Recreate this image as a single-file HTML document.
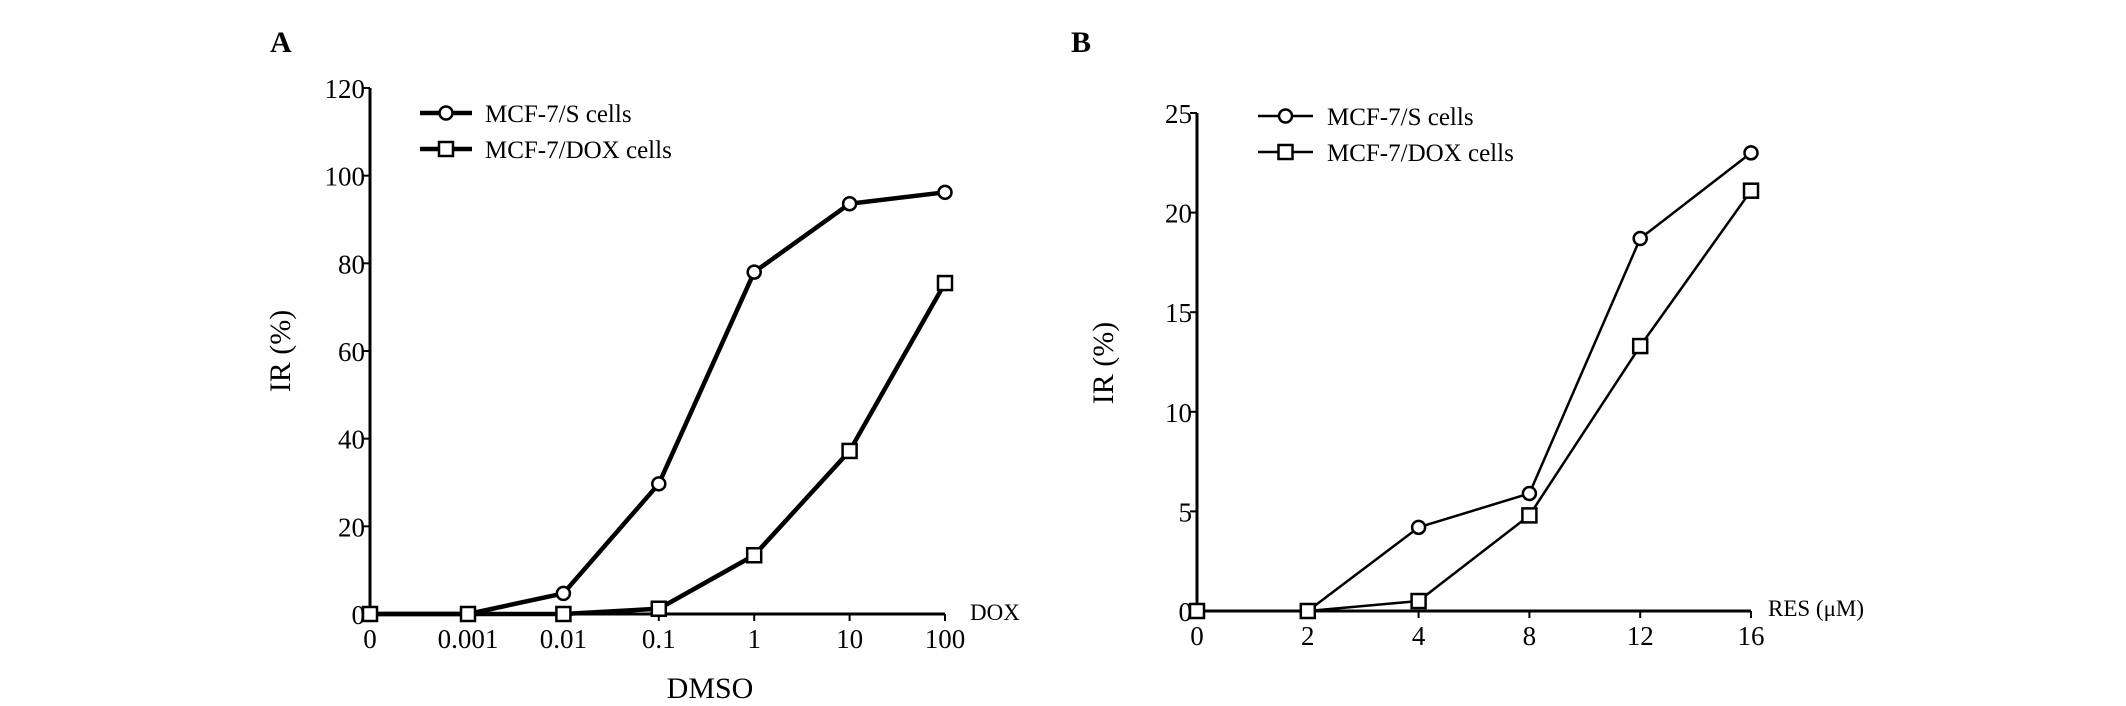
<!DOCTYPE html>
<html><head><meta charset="utf-8">
<style>
html,body{margin:0;padding:0;background:#fff;}
svg{display:block;font-family:"Liberation Serif",serif;}
</style></head>
<body>
<svg id="chart" width="2126" height="703" viewBox="0 0 2126 703">
<g id="pa"></g>
<g id="pb"></g>
</svg>
<script>
const aCategories = ["0","0.001","0.01","0.1","1","10","100"];
const aSeriesS = [0, 0, 4.7, 29.7, 78, 93.6, 96.2];
const aSeriesDox = [0, 0, 0, 1.2, 13.4, 37.2, 75.5];
const aYTicks = [0, 20, 40, 60, 80, 100, 120];

const bCategories = ["0","2","4","8","12","16"];
const bSeriesS = [0, 0, 4.2, 5.9, 18.7, 23.0];
const bSeriesDox = [0, 0, 0.5, 4.8, 13.3, 21.1];
const bYTicks = [0, 5, 10, 15, 20, 25];

const NS = "http://www.w3.org/2000/svg";
function mk(parent, tag, attrs, text) {
  const e = document.createElementNS(NS, tag);
  for (const k in attrs) e.setAttribute(k, attrs[k]);
  if (text !== undefined) e.textContent = text;
  parent.appendChild(e);
  return e;
}

function drawPanel(g, cfg) {
  const y = v => cfg.y0 - (v / cfg.yMax) * (cfg.y0 - cfg.yTop);
  const x = i => cfg.xPos(i);
  const sw = cfg.sw;
  const ya = mk(g, "line", {x1: cfg.ax, y1: cfg.yTop, x2: cfg.ax, y2: cfg.y0, stroke: "#000", "stroke-width": 3});
  
  
  const xa = mk(g, "line", {x1: cfg.ax, y1: cfg.y0, x2: x(cfg.cats.length - 1), y2: cfg.y0, stroke: "#000", "stroke-width": 3});
  
  
  cfg.yTicks.forEach(t => {
    const tk = mk(g, "line", {x1: cfg.ax - 7, y1: y(t), x2: cfg.ax, y2: y(t), stroke: "#000", "stroke-width": 2});
    
    
    const tl = mk(g, "text", {x: cfg.ax - 5, y: y(t) + 10, "text-anchor": "end", "font-size": 27}, String(t));
    
    
  });
  cfg.cats.forEach((c, i) => {
    const tk = mk(g, "line", {x1: x(i), y1: cfg.y0, x2: x(i), y2: cfg.y0 + 7, stroke: "#000", "stroke-width": 2});
    
    
    const tl = mk(g, "text", {x: x(i), y: cfg.y0 + 34, "text-anchor": "middle", "font-size": 27}, c);
    
    
  });
  function series(vals, shape, name) {
    const pts = vals.map((v, i) => x(i) + "," + y(v)).join(" ");
    const pl = mk(g, "polyline", {points: pts, fill: "none", stroke: "#000", "stroke-width": sw, "stroke-linejoin": "round"});
    
    
    vals.forEach((v, i) => {
      let m;
      if (shape === "circle") m = mk(g, "circle", {cx: x(i), cy: y(v), r: 6.5, fill: "#fff", stroke: "#000", "stroke-width": 2.5});
      else m = mk(g, "rect", {x: x(i) - 7, y: y(v) - 7, width: 14, height: 14, fill: "#fff", stroke: "#000", "stroke-width": 2.5});
      
      
    });
  }
  series(cfg.s, "circle", "mcf7-s");
  series(cfg.d, "rect", "mcf7-dox");
  [["MCF-7/S cells", "circle", cfg.legY], ["MCF-7/DOX cells", "rect", cfg.legY + 36]].forEach(([lab, sh, ly]) => {
    const lg = mk(g, "g", {});
    
    
    mk(lg, "line", {x1: cfg.legX, y1: ly, x2: cfg.legX + cfg.legW, y2: ly, stroke: "#000", "stroke-width": sw});
    const cx = cfg.legX + cfg.legW / 2;
    if (sh === "circle") mk(lg, "circle", {cx: cx, cy: ly, r: 6.5, fill: "#fff", stroke: "#000", "stroke-width": 2.5});
    else mk(lg, "rect", {x: cx - 7, y: ly - 7, width: 14, height: 14, fill: "#fff", stroke: "#000", "stroke-width": 2.5});
    mk(lg, "text", {x: cfg.legTextX, y: ly + 9, "font-size": 25}, lab);
  });
}

const pa = document.getElementById("pa");
drawPanel(pa, {
  cats: aCategories, s: aSeriesS, d: aSeriesDox, yTicks: aYTicks, yMax: 120,
  ax: 370, y0: 614, yTop: 88, sw: 4.5,
  xPos: i => i === 0 ? 370 : 468 + (i - 1) * 95.4,
  legX: 420, legW: 52, legY: 113, legTextX: 485
});
const pb = document.getElementById("pb");
drawPanel(pb, {
  cats: bCategories, s: bSeriesS, d: bSeriesDox, yTicks: bYTicks, yMax: 25,
  ax: 1197, y0: 611, yTop: 113, sw: 2.5,
  xPos: i => 1197 + i * 110.8,
  legX: 1258, legW: 55, legY: 116, legTextX: 1327
});
</script>
<div style="position:absolute;left:0;top:0;width:2126px;height:703px;pointer-events:none;font-family:'Liberation Serif',serif;">
  <div style="position:absolute;left:270px;top:26px;font-size:30px;font-weight:bold;">A</div>
  <div style="position:absolute;left:1071px;top:26px;font-size:30px;font-weight:bold;">B</div>
  <div style="position:absolute;left:281px;top:351px;font-size:30px;transform:translate(-50%,-50%) rotate(-90deg);white-space:nowrap;">IR (%)</div>
  <div style="position:absolute;left:1104px;top:363px;font-size:30px;transform:translate(-50%,-50%) rotate(-90deg);white-space:nowrap;">IR (%)</div>
  <div style="position:absolute;left:710px;top:689px;font-size:30px;transform:translate(-50%,-50%);white-space:nowrap;">DMSO</div>
  <div style="position:absolute;left:970px;top:600px;font-size:23px;white-space:nowrap;">DOX</div>
  <div style="position:absolute;left:1768px;top:596px;font-size:23px;white-space:nowrap;">RES (μM)</div>
</div>
</body></html>
